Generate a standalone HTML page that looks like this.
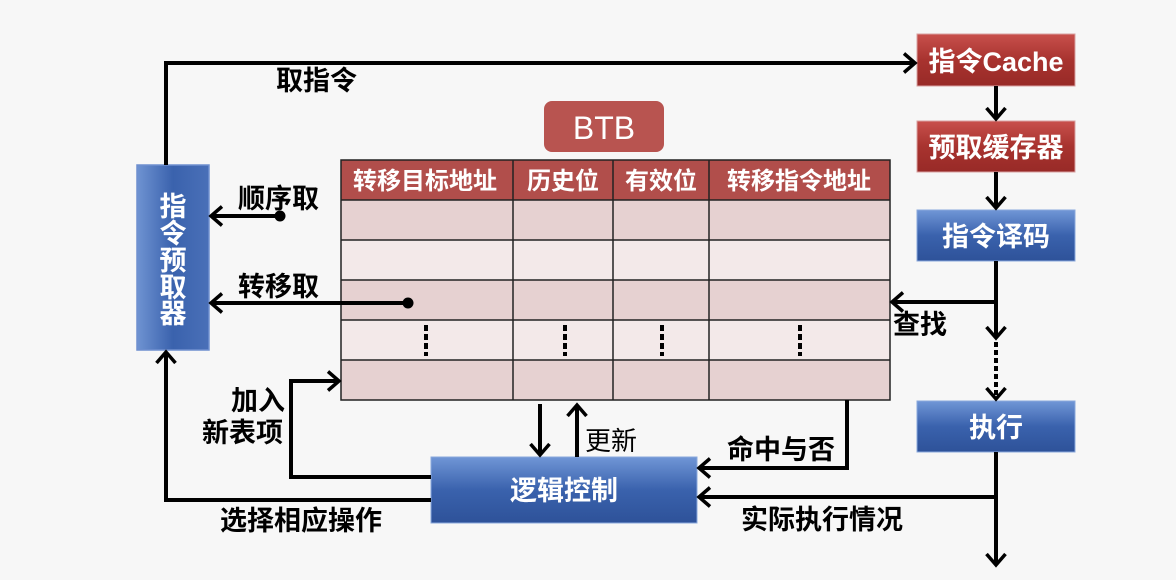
<!DOCTYPE html>
<html><head><meta charset="utf-8"><style>
html,body{margin:0;padding:0;background:#f7f7f7;}
svg{display:block;font-family:"Liberation Sans","Noto Sans CJK SC",sans-serif;}
</style></head><body>
<svg width="1176" height="580" viewBox="0 0 1176 580" xmlns="http://www.w3.org/2000/svg">
<defs>
<linearGradient id="bl" x1="0" y1="0" x2="0" y2="1"><stop offset="0" stop-color="#7096d6"/><stop offset="0.5" stop-color="#3a62ad"/><stop offset="1" stop-color="#2e5299"/></linearGradient>
<linearGradient id="blh" x1="0" y1="0" x2="1" y2="0"><stop offset="0" stop-color="#6f93d2"/><stop offset="0.5" stop-color="#3a62ad"/><stop offset="1" stop-color="#4a70b8"/></linearGradient>
<linearGradient id="rd" x1="0" y1="0" x2="0" y2="1"><stop offset="0" stop-color="#c8504c"/><stop offset="0.5" stop-color="#a8332f"/><stop offset="1" stop-color="#982a27"/></linearGradient>
<marker id="ar" viewBox="0 0 14 22" refX="12" refY="11" markerWidth="14" markerHeight="22" markerUnits="userSpaceOnUse" orient="auto" overflow="visible"><path d="M1 1.5 L12 11 L1 20.5" fill="none" stroke="#000" stroke-width="3.5"/></marker>
</defs>
<rect width="1176" height="580" fill="#f7f7f7"/>
<rect x="544" y="101" width="120" height="51" rx="8" fill="#b85450"/>
<text x="604" y="139" font-size="32" fill="#fff" text-anchor="middle">BTB</text>
<rect x="341" y="160" width="549" height="40" fill="#b14e4b"/>
<rect x="341" y="200" width="549" height="40" fill="#e6d1d1"/>
<rect x="341" y="240" width="549" height="40" fill="#f3e9e9"/>
<rect x="341" y="280" width="549" height="40" fill="#e6d1d1"/>
<rect x="341" y="320" width="549" height="40" fill="#f3e9e9"/>
<rect x="341" y="360" width="549" height="40" fill="#e6d1d1"/>
<g stroke="#222" stroke-width="1.5" fill="none">
<rect x="341" y="160" width="549" height="240"/>
<line x1="341" y1="200" x2="890" y2="200"/><line x1="341" y1="240" x2="890" y2="240"/>
<line x1="341" y1="280" x2="890" y2="280"/><line x1="341" y1="320" x2="890" y2="320"/>
<line x1="341" y1="360" x2="890" y2="360"/>
<line x1="513" y1="160" x2="513" y2="400"/><line x1="613" y1="160" x2="613" y2="400"/><line x1="709" y1="160" x2="709" y2="400"/>
</g>
<g font-size="24" font-weight="bold" fill="#fff" text-anchor="middle">
<text x="425" y="189">转移目标地址</text><text x="563" y="189">历史位</text><text x="661" y="189">有效位</text><text x="799" y="189">转移指令地址</text>
</g>
<g stroke="#000" stroke-width="4" stroke-dasharray="6,3">
<line x1="426" y1="325" x2="426" y2="356"/><line x1="565" y1="325" x2="565" y2="356"/><line x1="662" y1="325" x2="662" y2="356"/><line x1="800" y1="325" x2="800" y2="356"/>
</g>
<rect x="137" y="165" width="72" height="185" fill="url(#blh)" stroke="#6f8fcf" stroke-width="1.5"/>
<g font-size="27" font-weight="bold" fill="#fff" text-anchor="middle">
<text x="173" y="216">指</text><text x="173" y="243">令</text><text x="173" y="270">预</text><text x="173" y="297">取</text><text x="173" y="323">器</text>
</g>
<rect x="917" y="34" width="158" height="52" fill="url(#rd)" stroke="#d8a0a0"/>
<text x="996" y="71" font-size="27" font-weight="bold" fill="#fff" text-anchor="middle">指令Cache</text>
<rect x="917" y="121" width="158" height="51" fill="url(#rd)" stroke="#d8a0a0"/>
<text x="996" y="157" font-size="27" font-weight="bold" fill="#fff" text-anchor="middle">预取缓存器</text>
<rect x="917" y="210" width="158" height="51" fill="url(#bl)" stroke="#8aa8dc"/>
<text x="996" y="246" font-size="27" font-weight="bold" fill="#fff" text-anchor="middle">指令译码</text>
<rect x="917" y="401" width="158" height="51" fill="url(#bl)" stroke="#8aa8dc"/>
<text x="996" y="437" font-size="27" font-weight="bold" fill="#fff" text-anchor="middle">执行</text>
<rect x="431" y="457" width="266" height="66" fill="url(#bl)" stroke="#8aa8dc"/>
<text x="564" y="500" font-size="27" font-weight="bold" fill="#fff" text-anchor="middle">逻辑控制</text>
<g stroke="#000" stroke-width="4" fill="none">
<polyline points="166,165 166,63 915,63" marker-end="url(#ar)"/>
<line x1="280" y1="216" x2="211" y2="216" marker-end="url(#ar)"/>
<line x1="408" y1="303" x2="211" y2="303" marker-end="url(#ar)"/>
<line x1="996" y1="86" x2="996" y2="119" marker-end="url(#ar)"/>
<line x1="996" y1="172" x2="996" y2="208" marker-end="url(#ar)"/>
<line x1="996" y1="261" x2="996" y2="338" marker-end="url(#ar)"/>
<line x1="996" y1="302" x2="892" y2="302" marker-end="url(#ar)"/>
<line x1="996" y1="342" x2="996" y2="399" stroke-dasharray="5,3" marker-end="url(#ar)"/>
<line x1="996" y1="452" x2="996" y2="565" marker-end="url(#ar)"/>
<line x1="996" y1="497" x2="699" y2="497" marker-end="url(#ar)"/>
<polyline points="847,400 847,468 699,468" marker-end="url(#ar)"/>
<line x1="540" y1="404" x2="540" y2="455" marker-end="url(#ar)"/>
<line x1="577" y1="457" x2="577" y2="405" marker-end="url(#ar)"/>
<polyline points="431,477 291,477 291,381 339,381" marker-end="url(#ar)"/>
<polyline points="431,500 166,500 166,352" marker-end="url(#ar)"/>
</g>
<circle cx="280" cy="216" r="5.5" fill="#000"/>
<circle cx="408" cy="303" r="5.5" fill="#000"/>
<g font-size="27" font-weight="bold" fill="#000">
<text x="276" y="90">取指令</text>
<text x="238" y="208">顺序取</text>
<text x="238" y="296">转移取</text>
<text x="893" y="334">查找</text>
<text x="231" y="410">加入</text>
<text x="202" y="442">新表项</text>
<text x="220" y="530">选择相应操作</text>
<text x="727" y="459">命中与否</text>
<text x="741" y="529">实际执行情况</text>
</g>
<text x="585" y="450" font-size="26" fill="#000">更新</text>
</svg>
</body></html>
